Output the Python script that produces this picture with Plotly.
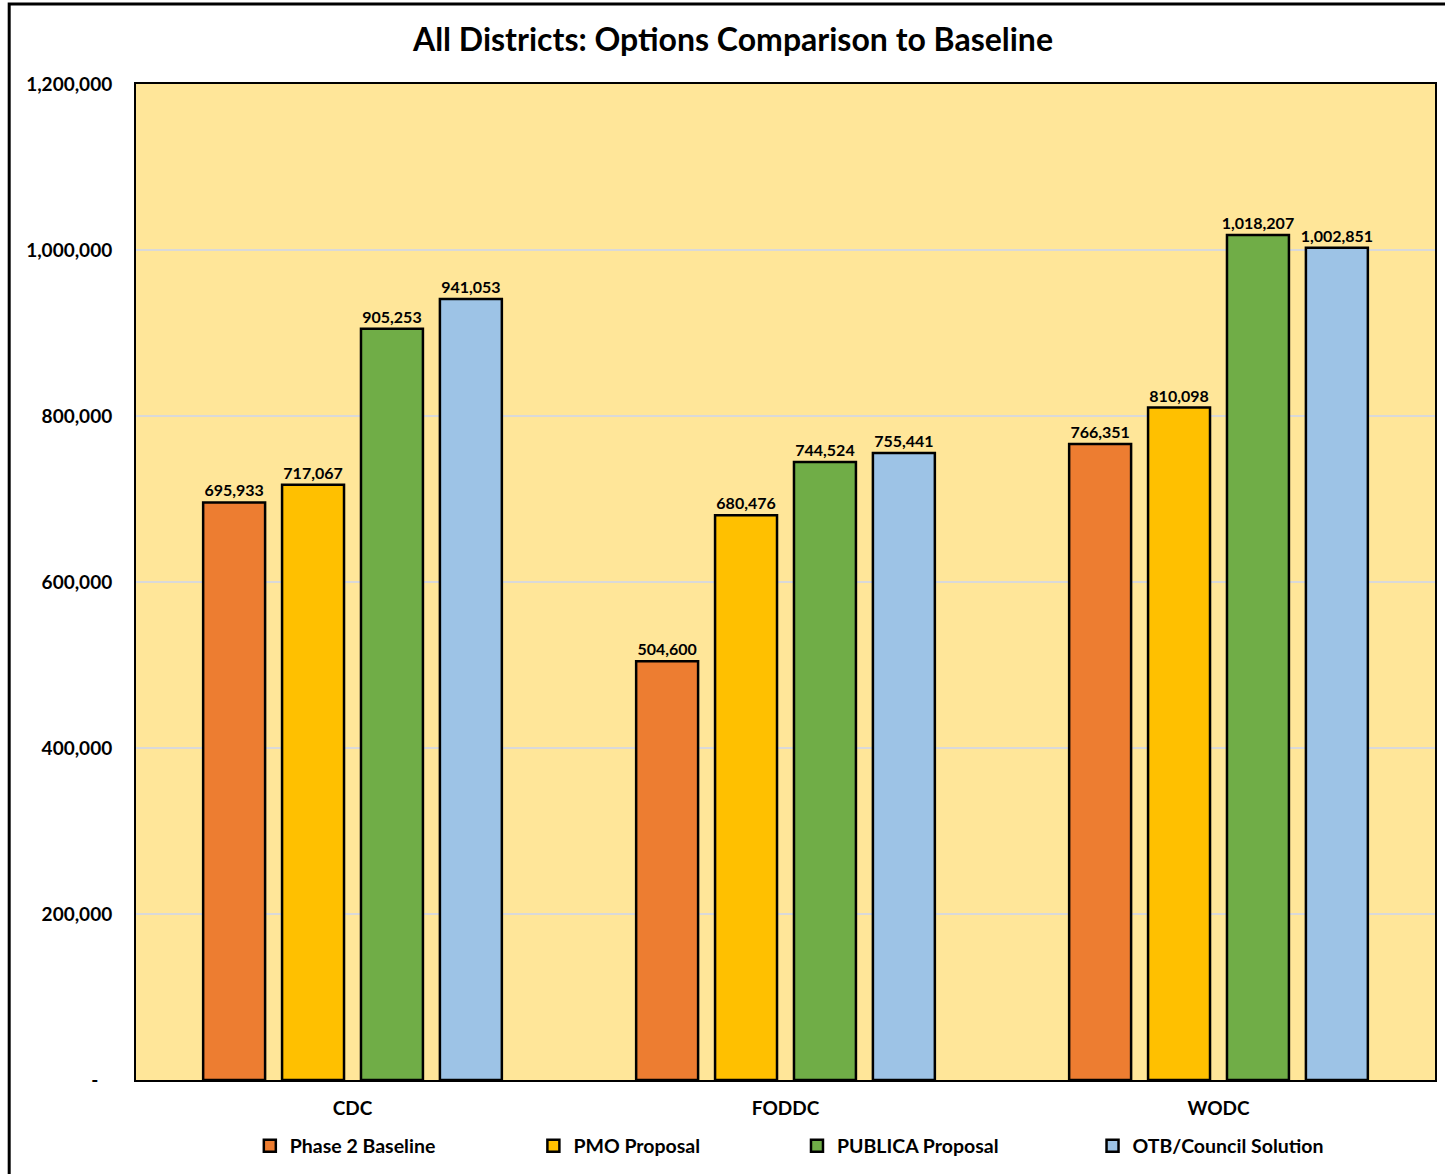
import plotly.graph_objects as go

categories = ["CDC", "FODDC", "WODC"]
series_names = ["Phase 2 Baseline", "PMO Proposal", "PUBLICA Proposal", "OTB/Council Solution"]
phase2_baseline = [695933, 504600, 766351]
pmo_proposal = [717067, 680476, 810098]
publica_proposal = [905253, 744524, 1018207]
otb_council = [941053, 755441, 1002851]
colors = ["#ED7D31", "#FFC000", "#70AD47", "#9DC3E6"]
y_tickvals = [0, 200000, 400000, 600000, 800000, 1000000, 1200000]
y_ticktext = ["-\u00a0\u00a0\u00a0", "200,000", "400,000", "600,000", "800,000", "1,000,000", "1,200,000"]

W, H = 1445, 1174
ml, mr, mt, mb = 136, 8, 84, 94
pw = W - ml - mr
ph = H - mt - mb

FONT = "Lato"
values = [phase2_baseline, pmo_proposal, publica_proposal, otb_council]
legend_text_px = [290, 574, 838, 1134]

fig = go.Figure()
for i, (name, vals, col) in enumerate(zip(series_names, values, colors)):
    fig.add_trace(go.Bar(
        x=categories, y=vals, name=name,
        marker=dict(color=col, line=dict(color="black", width=2.5)),
        text=[f"{v:,}" for v in vals], textposition="outside",
        textfont=dict(family=FONT, size=16, color="black", weight="bold"),
        constraintext="none",
        cliponaxis=False,
        legend="legend" if i == 0 else f"legend{i+1}",
    ))

legend_layout = {}
for i, tx in enumerate(legend_text_px):
    key = "legend" if i == 0 else f"legend{i+1}"
    legend_layout[key] = dict(
        x=(tx - 40 - ml) / pw, y=(H - mb - 1146) / ph, xanchor="left", yanchor="middle",
        orientation="h", bgcolor="rgba(0,0,0,0)",
        font=dict(family=FONT, size=19.5, color="black", weight="bold"),
    )

fig.update_layout(
    width=W, height=H,
    margin=dict(l=ml, r=mr, t=mt, b=mb),
    paper_bgcolor="white", plot_bgcolor="#FFE699",
    barmode="group", bargap=0.271, bargroupgap=0.215,
    title=dict(text="<b>All Districts: Options Comparison to Baseline</b>",
               x=733 / W, xanchor="center", y=1 - 40 / H, yanchor="middle",
               yref="container", xref="container",
               font=dict(family=FONT, size=32, color="black")),
    font=dict(family=FONT, color="black"),
    showlegend=True,
    **legend_layout,
)
fig.update_xaxes(
    showline=True, linecolor="black", linewidth=2, mirror=True,
    tickfont=dict(family=FONT, size=19, color="black", weight="bold"),
    ticklabelstandoff=10,
)
fig.update_yaxes(
    range=[0, 1200000], tickvals=y_tickvals, ticktext=y_ticktext,
    showline=True, linecolor="black", linewidth=2, mirror=True,
    gridcolor="#D9D9D9", gridwidth=2, zeroline=False,
    tickfont=dict(family=FONT, size=19, color="black", weight="bold"),
    ticklabelstandoff=18,
)
# outer chart border
fig.add_shape(type="rect", xref="paper", yref="paper",
              x0=(9 - ml) / pw, x1=(W + 20 - ml) / pw,
              y0=(H - mb - (H + 20)) / ph, y1=(H - mb - 4) / ph,
              line=dict(color="black", width=3), fillcolor="rgba(0,0,0,0)", layer="below")

fig.write_html("out.html")
